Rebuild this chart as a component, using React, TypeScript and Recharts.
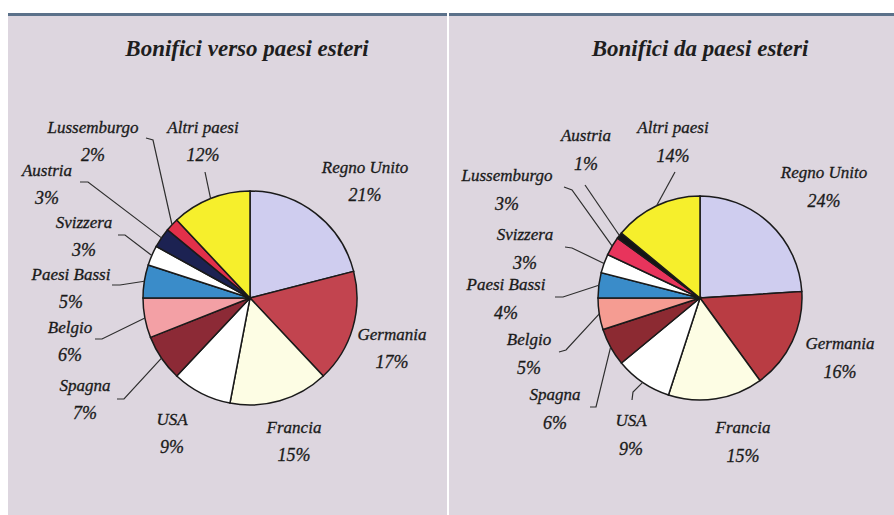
import { PieChart, Pie, Cell } from "recharts";

// Bonifici verso paesi esteri (outgoing transfers), % share
const outCountries = [
  "Regno Unito",
  "Germania",
  "Francia",
  "USA",
  "Spagna",
  "Belgio",
  "Paesi Bassi",
  "Svizzera",
  "Austria",
  "Lussemburgo",
  "Altri paesi",
];
const outValues = [21, 17, 15, 9, 7, 6, 5, 3, 3, 2, 12];
const outColors = [
  "#cfcdef",
  "#c2444f",
  "#fdfde4",
  "#ffffff",
  "#8c2a36",
  "#f3a0a5",
  "#3a8cc9",
  "#ffffff",
  "#1c2252",
  "#e2304a",
  "#f6ef2c",
];

// Bonifici da paesi esteri (incoming transfers), % share
const inCountries = [
  "Regno Unito",
  "Germania",
  "Francia",
  "USA",
  "Spagna",
  "Belgio",
  "Paesi Bassi",
  "Svizzera",
  "Lussemburgo",
  "Austria",
  "Altri paesi",
];
const inValues = [24, 16, 15, 9, 6, 5, 4, 3, 3, 1, 14];
const inColors = [
  "#cfcdef",
  "#b93c43",
  "#fdfde4",
  "#ffffff",
  "#8c2a32",
  "#f59c92",
  "#3a8cc9",
  "#ffffff",
  "#e8345c",
  "#141414",
  "#f6ef2c",
];

// label placement, relative to pie centre: [dx, dy] of the country name
const outLabelPos = [
  [115, -131], [142, 36], [44, 129], [-78, 121], [-165, 87], [-180, 29],
  [-179, -24], [-166, -76], [-203, -128], [-157, -171], [-47, -171],
];
// leader lines: [endX, endY, elbowX, elbowY] relative to centre, or null
const outLeaders = [
  null, null, null, null,
  [-133, 101, -126, 101],
  [-155, 41, -148, 41],
  [-138, -13, -130, -13],
  [-132, -63, -125, -63],
  [-170, -116, -162, -116],
  [-104, -160, -97, -158],
  [-45, -126, -45, -126],
];

const inLabelPos = [
  [124, -126], [140, 45], [43, 129], [-69, 122], [-145, 96], [-171, 41],
  [-194, -14], [-175, -64], [-193, -123], [-114, -163], [-27, -171],
];
const inLeaders = [
  null, null, null,
  [-68, 102, -67, 94],
  [-110, 109, -104, 109],
  [-141, 54, -134, 52],
  [-145, -1, -137, -1],
  [-135, -51, -128, -50],
  [-136, -111, -128, -108],
  [-115, -113, -115, -113],
  [-25, -126, -25, -126],
];

const outData = outCountries.map((name, i) => ({ name, value: outValues[i] }));
const inData = inCountries.map((name, i) => ({ name, value: inValues[i] }));

const RAD = Math.PI / 180;
const FONT = "'Liberation Serif', 'DejaVu Serif', serif";

const makeLabel =
  (labelPos: number[][], leaders: (number[] | null)[], pctGap: number) =>
  (props: any) => {
    const { cx, cy, midAngle, outerRadius, index, name, value } = props;
    const [dx, dy] = labelPos[index];
    const lead = leaders[index];
    const ex = cx + outerRadius * Math.cos(-midAngle * RAD);
    const ey = cy + outerRadius * Math.sin(-midAngle * RAD);
    return (
      <g key={`lbl-${index}`}>
        {lead && (
          <polyline
            points={`${ex},${ey} ${cx + lead[2]},${cy + lead[3]} ${cx + lead[0]},${cy + lead[1]}`}
            fill="none"
            stroke="#2e2e2e"
            strokeWidth={1.2}
          />
        )}
        <text
          x={cx + dx}
          y={cy + dy}
          textAnchor="middle"
          dominantBaseline="central"
          fontFamily={FONT}
          fontStyle="italic"
          fontSize={17}
          fill="#1a1a1a"
          stroke="#1a1a1a"
          strokeWidth={0.3}
        >
          {name}
        </text>
        <text
          x={cx + dx}
          y={cy + dy + pctGap}
          textAnchor="middle"
          dominantBaseline="central"
          fontFamily={FONT}
          fontStyle="italic"
          fontSize={18}
          fill="#1a1a1a"
          stroke="#1a1a1a"
          strokeWidth={0.3}
        >
          {value}%
        </text>
      </g>
    );
  };

const panelStyle = {
  position: "absolute" as const,
  top: 13,
  height: 502,
  background: "#ddd6df",
  borderTop: "3px solid #5b718a",
  boxSizing: "border-box" as const,
};

const titleStyle = {
  position: "absolute" as const,
  top: 35,
  width: 440,
  textAlign: "center" as const,
  fontFamily: FONT,
  fontStyle: "italic",
  fontWeight: 700,
  fontSize: 23,
  lineHeight: "28px",
  color: "#1e1e1e",
};

export default function App() {
  return (
    <div
      style={{
        position: "absolute",
        left: 0,
        top: 0,
        width: 894,
        height: 515,
        background: "#ffffff",
        overflow: "hidden",
      }}
    >
      <div style={{ ...panelStyle, left: 8, width: 439 }} />
      <div style={{ ...panelStyle, left: 449, width: 445 }} />
      <div style={{ ...titleStyle, left: 27 }}>Bonifici verso paesi esteri</div>
      <div style={{ ...titleStyle, left: 480 }}>Bonifici da paesi esteri</div>
      <div style={{ position: "absolute", left: 0, top: 0 }}>
        <PieChart
          width={894}
          height={515}
          margin={{ top: 0, right: 0, bottom: 0, left: 0 }}
        >
          <Pie
            data={outData}
            dataKey="value"
            nameKey="name"
            cx={250}
            cy={298}
            outerRadius={107}
            startAngle={90}
            endAngle={-270}
            stroke="#1a1a1a"
            strokeWidth={1.5}
            labelLine={false}
            label={makeLabel(outLabelPos, outLeaders, 28)}
            isAnimationActive={false}
          >
            {outData.map((d, i) => (
              <Cell key={d.name} fill={outColors[i]} />
            ))}
          </Pie>
          <Pie
            data={inData}
            dataKey="value"
            nameKey="name"
            cx={700}
            cy={298}
            outerRadius={102}
            startAngle={90}
            endAngle={-270}
            stroke="#1a1a1a"
            strokeWidth={1.5}
            labelLine={false}
            label={makeLabel(inLabelPos, inLeaders, 29)}
            isAnimationActive={false}
          >
            {inData.map((d, i) => (
              <Cell key={d.name} fill={inColors[i]} />
            ))}
          </Pie>
        </PieChart>
      </div>
    </div>
  );
}
